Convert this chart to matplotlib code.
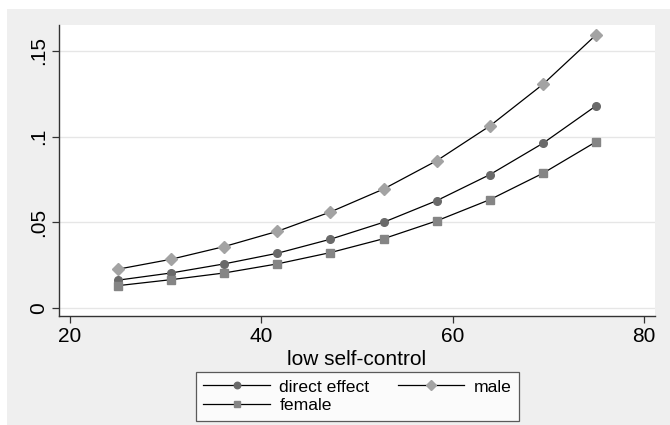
import matplotlib
matplotlib.use("Agg")
import matplotlib.pyplot as plt
from matplotlib.patches import Rectangle

plt.rcParams['font.family'] = ['Liberation Sans', 'DejaVu Sans']

# low self-control values at which effects are evaluated
self_control = [25, 30.56, 36.11, 41.67, 47.22, 52.78, 58.33, 63.89, 69.44, 75]
direct_effect = [0.0162, 0.0204, 0.0257, 0.0319, 0.0401, 0.0500, 0.0626, 0.0778, 0.0961, 0.1180]
male = [0.0226, 0.0284, 0.0358, 0.0447, 0.0560, 0.0694, 0.0859, 0.1062, 0.1305, 0.1594]
female = [0.0130, 0.0165, 0.0204, 0.0257, 0.0323, 0.0404, 0.0508, 0.0632, 0.0786, 0.0970]

y_ticks = [0, 0.05, 0.1, 0.15]
y_labels = ["0", ".05", ".1", ".15"]
x_ticks = [20, 40, 60, 80]

fig = plt.figure(figsize=(6.7, 4.25), dpi=100)
fig.patch.set_facecolor("white")
# stata-style gray outer region, kept behind the axes
fig.patches.append(Rectangle((7 / 670, 0), 1, 1 - 9 / 425, transform=fig.transFigure,
                             facecolor="#efefef", edgecolor="none", zorder=-10))

ax = fig.add_axes([59 / 670, 109 / 425, 596 / 670, 291 / 425])
ax.set_facecolor("white")

ax.plot(self_control, direct_effect, color="black", lw=0.9, marker="o", ms=5.5,
        mfc="#6a6a6a", mec="#6a6a6a", label="direct effect", zorder=3)
ax.plot(self_control, female, color="black", lw=0.9, marker="s", ms=5.5,
        mfc="#858585", mec="#858585", label="female", zorder=3)
ax.plot(self_control, male, color="black", lw=0.9, marker="D", ms=6,
        mfc="#a3a3a3", mec="#a3a3a3", label="male", zorder=3)

ax.set_xlim(18.85, 81.15)
ax.set_ylim(-0.0047, 0.1651)
ax.set_xticks(x_ticks)
ax.set_yticks(y_ticks)
ax.set_yticklabels(y_labels, rotation=90, va="center")
ax.grid(axis="y", color="#e6e6e6", lw=1)
ax.set_axisbelow(True)

for side in ["top", "right"]:
    ax.spines[side].set_visible(False)
for side in ["left", "bottom"]:
    ax.spines[side].set_color("#333333")
    ax.spines[side].set_linewidth(1.0)
ax.tick_params(axis="both", direction="out", length=5, width=0.9, color="#333333",
               labelsize=15, pad=3)

ax.set_xlabel("low self-control", fontsize=15, labelpad=3)

leg = ax.legend(ncol=2, loc="upper center", bbox_to_anchor=(357.5 / 670, 53 / 425),
                bbox_transform=fig.transFigure, fontsize=12.6, frameon=True,
                fancybox=False, edgecolor="#333333", handlelength=3.8,
                markerscale=0.85, borderpad=0.42, labelspacing=0.2,
                columnspacing=1.6, handletextpad=0.55, borderaxespad=0)
leg.get_frame().set_linewidth(0.9)
leg.get_frame().set_facecolor("white")

fig.savefig("out.png", dpi=100)
